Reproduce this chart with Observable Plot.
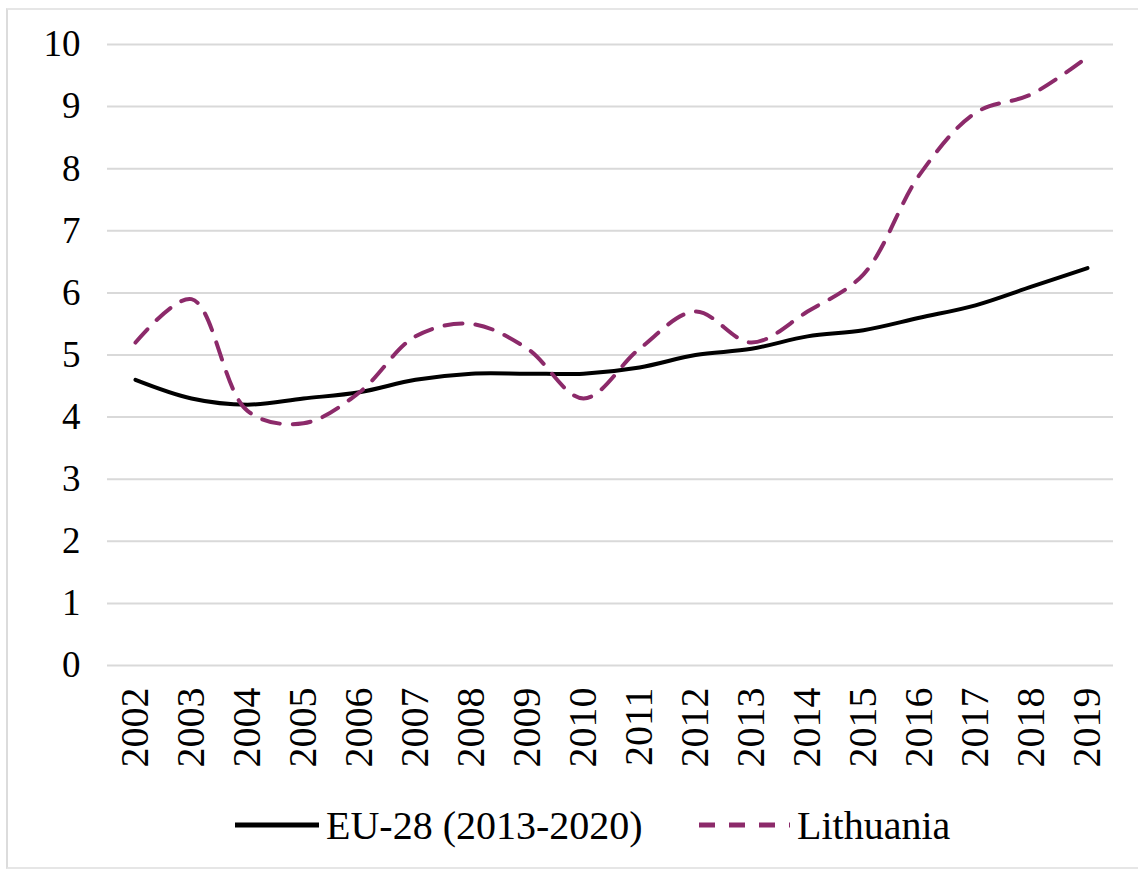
<!DOCTYPE html>
<html>
<head>
<meta charset="utf-8">
<script src="https://cdn.jsdelivr.net/npm/d3@7"></script>
<script src="https://cdn.jsdelivr.net/npm/@observablehq/plot@0.6"></script>
<style>
  html, body { margin: 0; padding: 0; background: #fff; }
  #wrap { position: relative; width: 1138px; height: 873px; overflow: hidden; font-family: "Liberation Serif", "Times New Roman", serif; }
  #box { position: absolute; left: 6px; top: 8px; width: 1140px; height: 861px; border-left: 2px solid #dcdcdc; border-top: 2px solid #e6e6e6; border-bottom: 2px solid #e6e6e6; box-sizing: border-box; }
  #chart { position: absolute; left: 0; top: 0; }
  #legend { position: absolute; left: 0; top: 795px; width: 1138px; height: 60px; font-size: 40px; color: #000; }
  .item { position: absolute; top: 0; display: flex; align-items: center; height: 60px; }
  .item svg { margin-right: 5px; }
</style>
</head>
<body>
<div id="wrap">
  <div id="box"></div>
  <div id="chart"></div>
  <div id="legend"></div>
</div>
<script>
const years = ["2002","2003","2004","2005","2006","2007","2008","2009","2010","2011","2012","2013","2014","2015","2016","2017","2018","2019"];
const eu28 = [4.6, 4.3, 4.2, 4.3, 4.4, 4.6, 4.7, 4.7, 4.7, 4.8, 5.0, 5.1, 5.3, 5.4, 5.6, 5.8, 6.1, 6.4];
const lithuania = [5.2, 5.9, 4.1, 3.9, 4.4, 5.3, 5.5, 5.1, 4.3, 5.1, 5.7, 5.2, 5.7, 6.3, 7.9, 8.9, 9.2, 9.8];
const seriesNames = ["EU-28 (2013-2020)", "Lithuania"];
const yTicks = [0,1,2,3,4,5,6,7,8,9,10];

const euData = years.map((y, i) => ({year: y, value: eu28[i]}));
const ltData = years.map((y, i) => ({year: y, value: lithuania[i]}));

const purple = "#8c2a6a";

const chart = Plot.plot({
  width: 1138,
  height: 780,
  marginTop: 44,
  marginBottom: 115,
  marginLeft: 107,
  marginRight: 25,
  style: {fontFamily: "'Liberation Serif', 'Times New Roman', serif", background: "transparent", color: "#000"},
  x: {type: "point", domain: years, range: [134, 1088], padding: 0, label: null},
  y: {domain: [0, 10], label: null},
  marks: [
    Plot.ruleY(yTicks, {stroke: "#d9d9d9", strokeWidth: 2, strokeOpacity: 1}),
    Plot.axisY(yTicks, {tickSize: 0, tickPadding: 27, fontSize: 37, tickFormat: d => String(d)}),
    Plot.axisX(years, {tickSize: 0, tickPadding: 22, fontSize: 40, tickRotate: -90, textAnchor: "end"}),
    Plot.line(euData, {x: "year", y: "value", stroke: "#000", strokeWidth: 4, curve: "catmull-rom"}),
    Plot.line(ltData, {x: "year", y: "value", stroke: purple, strokeWidth: 4, strokeDasharray: "18,13", curve: "catmull-rom"})
  ]
});
document.getElementById("chart").appendChild(chart);

const legend = document.getElementById("legend");
const items = [
  {name: seriesNames[0], left: 233, width: 88, stroke: "#000", dash: null},
  {name: seriesNames[1], left: 697, width: 95, stroke: purple, dash: "16,14"}
];
for (const it of items) {
  const div = document.createElement("div");
  div.className = "item";
  div.style.left = it.left + "px";
  const ns = "http://www.w3.org/2000/svg";
  const s = document.createElementNS(ns, "svg");
  s.setAttribute("width", it.width);
  s.setAttribute("height", 10);
  const l = document.createElementNS(ns, "line");
  l.setAttribute("x1", 2); l.setAttribute("x2", it.width - 2);
  l.setAttribute("y1", 5); l.setAttribute("y2", 5);
  l.setAttribute("stroke", it.stroke);
  l.setAttribute("stroke-width", 5);
  if (it.dash) l.setAttribute("stroke-dasharray", it.dash);
  s.appendChild(l);
  div.appendChild(s);
  const t = document.createElement("span");
  t.textContent = it.name;
  div.appendChild(t);
  legend.appendChild(div);
}
</script>
</body>
</html>
